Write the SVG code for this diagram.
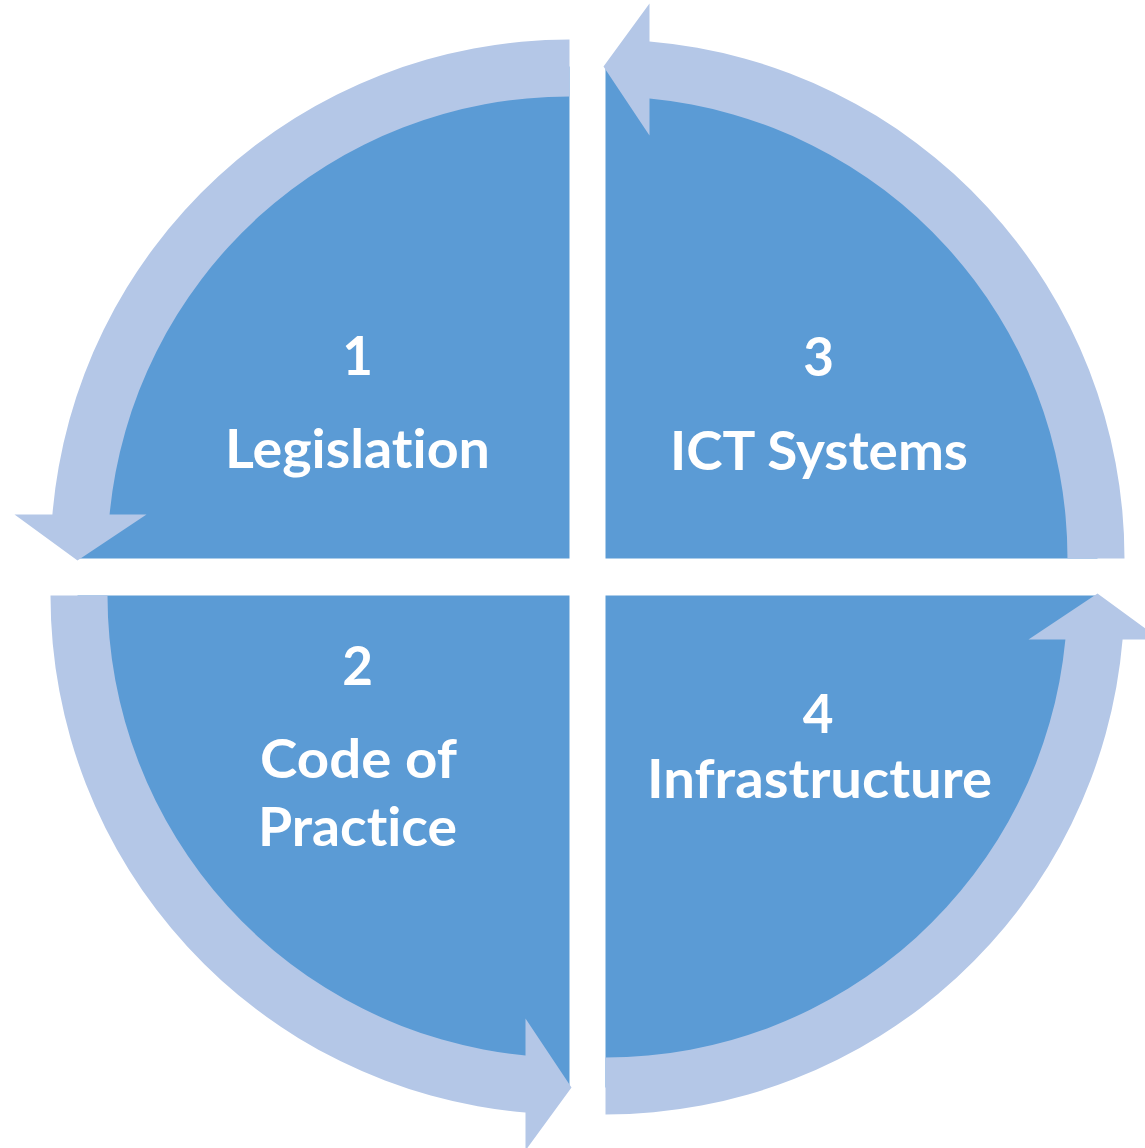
<svg xmlns="http://www.w3.org/2000/svg" width="1145" height="1148" viewBox="0 0 1145 1148">
  <style>
    .pie { fill: #5B9BD5; }
    .arrow { fill: #B4C7E7; }
    .lbl { fill: #FFFFFF; font-family: "Lato", "Open Sans", "Liberation Sans", sans-serif; font-weight: bold; font-size: 53px; text-anchor: middle; font-variant-ligatures: none; font-feature-settings: "liga" 0, "clig" 0; }
  </style>
  <rect x="0" y="0" width="1145" height="1148" fill="#FFFFFF"/>
  <g id="node-1">
    <path class="pie" d="M569.5,558.5 V66.5 A492,492 0 0 0 77.5,558.5 Z"/>
    <text class="lbl" x="357.5" y="375">1</text>
    <text class="lbl" x="357.5" y="468" textLength="265" lengthAdjust="spacingAndGlyphs">Legislation</text>
  </g>
  <g id="node-2">
    <path class="pie" d="M569.5,595.5 H77.5 A492,492 0 0 0 569.5,1087.5 Z"/>
    <text class="lbl" x="357.5" y="685">2</text>
    <text class="lbl" x="358.5" y="778" textLength="197" lengthAdjust="spacingAndGlyphs">Code of</text>
    <text class="lbl" x="357.5" y="846" textLength="199" lengthAdjust="spacingAndGlyphs">Practice</text>
  </g>
  <g id="node-3">
    <path class="pie" d="M605.5,558.5 H1097.5 A492,492 0 0 0 605.5,66.5 Z"/>
    <text class="lbl" x="818.5" y="376">3</text>
    <text class="lbl" x="819" y="470" textLength="298" lengthAdjust="spacingAndGlyphs">ICT Systems</text>
  </g>
  <g id="node-4">
    <path class="pie" d="M605.5,595.5 V1087.5 A492,492 0 0 0 1097.5,595.5 Z"/>
    <text class="lbl" x="818" y="733">4</text>
    <text class="lbl" x="819.5" y="798" textLength="345" lengthAdjust="spacingAndGlyphs">Infrastructure</text>
  </g>
  <g id="connectors">
    <path class="arrow" d="M569.5,39.5 A519,519 0 0 0 52.4,514.5 L14.5,514.5 L77.5,560.5 L146.5,514.5 L109.6,514.5 A462,462 0 0 1 569.5,96.5 Z"/>
    <path class="arrow" d="M50.5,595.5 A519,519 0 0 0 525.5,1112.6 L525.5,1150.5 L571.5,1087.5 L525.5,1018.5 L525.5,1055.4 A462,462 0 0 1 107.5,595.5 Z"/>
    <path class="arrow" d="M605.5,1114.5 A519,519 0 0 0 1122.6,639.5 L1160.5,639.5 L1097.5,593.5 L1028.5,639.5 L1065.4,639.5 A462,462 0 0 1 605.5,1057.5 Z"/>
    <path class="arrow" d="M1124.5,558.5 A519,519 0 0 0 649.5,41.4 L649.5,3.5 L603.5,66.5 L649.5,135.5 L649.5,98.6 A462,462 0 0 1 1067.5,558.5 Z"/>
  </g>
</svg>
